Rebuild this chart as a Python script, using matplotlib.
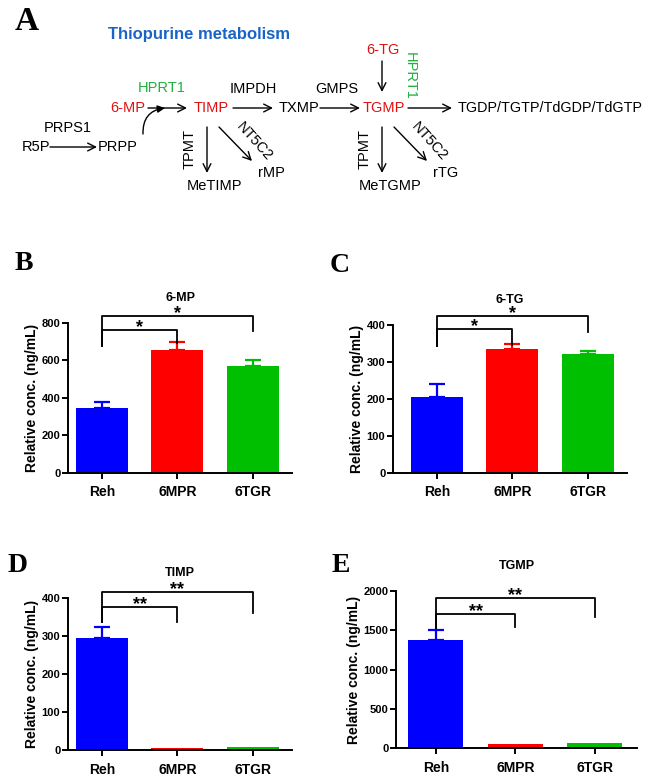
import matplotlib

matplotlib.use("Agg")
import matplotlib.pyplot as plt  # noqa: E402

plt.rcParams["font.family"] = ["Liberation Sans", "DejaVu Sans"]

W, H = 650, 778

groups = ["Reh", "6MPR", "6TGR"]
colors = ["#0000ff", "#ff0000", "#00bf00"]

mp_vals = [345, 654, 572]
mp_err = [32, 43, 32]
tg_vals = [205, 334, 321]
tg_err = [36, 16, 8]
timp_vals = [296, 4, 9]
timp_err = [28, 0, 0]
tgmp_vals = [1375, 52, 60]
tgmp_err = [125, 0, 0]

# bracket heights: (outer, inner, left leg, inner right leg, outer right leg)
mp_br = [838, 763, 676, 693, 756]
tg_br = [424, 388, 343, 346, 382]
timp_br = [415, 376, 338, 338, 360]
tgmp_br = [1915, 1708, 1525, 1538, 1665]
mp_stars = ["*", "*"]
tg_stars = ["*", "*"]
timp_stars = ["**", "**"]
tgmp_stars = ["**", "**"]


def px_axes(fig, x0, x1, y0, y1):
    """axes from pixel box (x0..x1 left-right, y0 top, y1 bottom)."""
    return fig.add_axes([x0 / W, 1 - y1 / H, (x1 - x0) / W, (y1 - y0) / H])


def bar_panel(ax, title, vals, errs, ymax, yticks, ylabels, br, stars, xlim):
    xs = range(len(groups))
    ax.bar(xs, vals, width=0.69, color=colors, edgecolor="none")
    for x, v, e, c in zip(xs, vals, errs, colors):
        if e > 0:
            ax.errorbar(x, v, yerr=[[0], [e]], fmt="none", ecolor=c,
                        elinewidth=1.6, capsize=6, capthick=1.6)
    ax.set_ylim(0, ymax)
    ax.set_xlim(*xlim)
    ax.set_yticks(yticks)
    ax.set_yticklabels(ylabels, fontsize=8, fontweight="bold")
    ax.set_xticks(list(xs))
    ax.set_xticklabels(groups, fontsize=10, fontweight="bold")
    for s in ("top", "right"):
        ax.spines[s].set_visible(False)
    for s in ("left", "bottom"):
        ax.spines[s].set_linewidth(1.4)
    ax.tick_params(axis="both", width=1.4, length=4, pad=1.5)
    ax.tick_params(axis="x", pad=5)
    ax.set_ylabel("Relative conc. (ng/mL)", fontsize=10, fontweight="bold",
                  labelpad=2)
    ax.set_title(title, fontsize=9, fontweight="bold", pad=16)

    outer, inner, left_leg, inner_r, outer_r = br
    kw = dict(color="k", lw=1.3, clip_on=False)
    ax.plot([0, 0, 2, 2], [left_leg, outer, outer, outer_r], **kw)
    ax.plot([0, 0, 1, 1], [left_leg, inner, inner, inner_r], **kw)
    for sx, sy, st in ((1.0, outer, stars[1]), (0.5, inner, stars[0])):
        ax.annotate(st, (sx, sy), xytext=(0, -1.5), textcoords="offset points",
                    ha="center", va="baseline", fontsize=13,
                    fontweight="bold", annotation_clip=False)


fig = plt.figure(figsize=(W / 100, H / 100), dpi=100)

# ---- panel A: pathway diagram -------------------------------------------
axa = fig.add_axes([0, 1 - 200 / H, 1, 200 / H])
axa.set_xlim(0, W)
axa.set_ylim(200, 0)
axa.axis("off")

RED, GRN, BLK = "#e01010", "#20b040", "k"
fs = 10.5


def t(x, y, s, c=BLK, **kw):
    kw.setdefault("ha", "center")
    axa.text(x, y, s, color=c, fontsize=kw.pop("fontsize", fs),
             va="center", **kw)


def arr(x0, y0, x1, y1, **kw):
    axa.annotate("", xy=(x1, y1), xytext=(x0, y0),
                 arrowprops=dict(arrowstyle="->", lw=1.0, color="k",
                                 mutation_scale=14, shrinkA=0, shrinkB=0, **kw))


fig.text(27 / W, 1 - 21 / H, "A", fontsize=24, fontweight="bold",
         family="Liberation Serif", ha="center", va="center")
t(199, 35, "Thiopurine metabolism", c="#1a64c8", fontsize=12,
  fontweight="bold")

t(128, 108, "6-MP", c=RED)
t(211, 108, "TIMP", c=RED)
t(299, 108, "TXMP")
t(384, 108, "TGMP", c=RED)
t(550, 108, "TGDP/TGTP/TdGDP/TdGTP", fontsize=10.4)
t(162, 88, "HPRT1", c=GRN)
t(253, 89, "IMPDH")
t(337, 89, "GMPS")
t(383, 50, "6-TG", c=RED)
t(410, 76, "HPRT1", c=GRN, rotation=-90)
arr(382, 61, 382, 92)
arr(148, 108, 187, 108)
arr(233, 108, 273, 108)
arr(320, 108, 360, 108)
arr(408, 108, 452, 108)

t(68, 128, "PRPS1")
t(36, 147, "R5P")
t(118, 147, "PRPP")
arr(50, 147, 97, 147)
axa.annotate("", xy=(165, 108), xytext=(143, 134),
             arrowprops=dict(arrowstyle="-|>", lw=1.0, color="k",
                             mutation_scale=11, shrinkA=0, shrinkB=0,
                             connectionstyle="arc3,rad=-0.45"))

for cx, me, r in ((207, "MeTIMP", "rMP"), (382, "MeTGMP", "rTG")):
    arr(cx, 127, cx, 173)
    t(cx - 17, 149, "TPMT", rotation=90)
    arr(cx + 12, 127, cx + 45, 161)
    t(cx + 47, 142, "NT5C2", rotation=-48)
    t(cx + 8, 186, me)
    t(cx + 64, 173, r)

# ---- bar panels ---------------------------------------------------------
for lbl, x, y in (("B", 24, 264), ("C", 340, 265), ("D", 18, 565),
                  ("E", 341, 565)):
    fig.text(x / W, 1 - y / H, lbl, fontsize=20, fontweight="bold",
             family="Liberation Serif", ha="center", va="center")

axb = px_axes(fig, 68, 292, 323, 473)
bar_panel(axb, "6-MP", mp_vals, mp_err, 800, [0, 200, 400, 600, 800],
          ["0", "200", "400", "600", "800"], mp_br, mp_stars, (-0.45, 2.52))

axc = px_axes(fig, 393, 627, 325, 473)
bar_panel(axc, "6-TG", tg_vals, tg_err, 400, [0, 100, 200, 300, 400],
          ["0", "100", "200", "300", "400"], tg_br, tg_stars, (-0.58, 2.52))

axd = px_axes(fig, 68, 292, 598, 750)
bar_panel(axd, "TIMP", timp_vals, timp_err, 400, [0, 100, 200, 300, 400],
          ["0", "100", "200", "300", "400"], timp_br, timp_stars,
          (-0.45, 2.52))

axe = px_axes(fig, 396, 637, 591, 748)
bar_panel(axe, "TGMP", tgmp_vals, tgmp_err, 2000, [0, 500, 1000, 1500, 2000],
          ["0", "500", "1000", "1500", "2000"], tgmp_br, tgmp_stars,
          (-0.5, 2.53))

fig.savefig("out.png", dpi=100)
